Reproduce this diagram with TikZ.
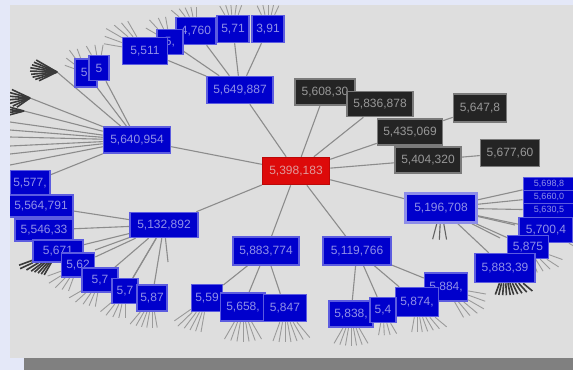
\documentclass[tikz,border=0pt]{standalone}
\usepackage{fontspec}
\newfontfamily\labfont{Liberation Sans}
\pgfdeclarelayer{bgpanel}
\pgfdeclarelayer{edges}
\pgfsetlayers{bgpanel,edges,main}
\definecolor{outerbg}{HTML}{E4E8F8}
\definecolor{panel}{HTML}{DEDEDE}
\definecolor{shadowcol}{HTML}{808080}
\definecolor{bluefill}{HTML}{0000CC}
\definecolor{blueedge}{HTML}{5C5CE0}
\definecolor{bluetext}{HTML}{9090E8}
\definecolor{darkfill}{HTML}{242424}
\definecolor{darkedge}{HTML}{7A7A7A}
\definecolor{darktext}{HTML}{989898}
\definecolor{redfill}{HTML}{DD0A0A}
\definecolor{redtext}{HTML}{E09A9A}
\definecolor{edgecol}{HTML}{8C8C8C}
\definecolor{leafcol}{HTML}{9A9A9A}
\definecolor{blobcol}{HTML}{3A3A3A}
\tikzset{
  box/.style={rectangle, inner sep=0pt, line width=1.5pt, font=\labfont\fontsize{12}{13}\selectfont},
  bluebox/.style={box, fill=bluefill, draw=blueedge, text=bluetext},
  smallblue/.style={bluebox, line width=1pt, font=\labfont\fontsize{9}{10}\selectfont},
  selbox/.style={bluebox, draw=blueedge!70!white, line width=2.5pt},
  darkbox/.style={box, fill=darkfill, draw=darkedge, text=darktext},
  redbox/.style={box, fill=redfill, draw=redfill!85!black, text=redtext},
  link/.style={draw=edgecol, line width=1.1pt},
  leaf/.style={draw=leafcol, line width=0.9pt},
  blob/.style={draw=blobcol, line width=1.6pt},
  cursorline/.style={draw=blobcol!80!white, line width=1.1pt},
}
\newcount\leafno
% #1 style, #2 node, #3 start angle, #4 end angle, #5 count, #6 length
\newcommand\leafFan[6][leaf]{%
  \foreach \k in {1,...,#5}{%
    \pgfmathtruncatemacro\ang{#3+(#4-#3)*(\k-1)/(#5-1)}%
    \global\advance\leafno by 1
    \path (#2.\ang) ++(\ang:#6pt) coordinate (lf\the\leafno);
    \draw[#1] (#2.\ang) -- (lf\the\leafno);
  }%
}
\begin{document}
\begin{tikzpicture}[x=1pt,y=-1pt]
\useasboundingbox (0,0) rectangle (573,370);
\begin{pgfonlayer}{bgpanel}
  \fill[outerbg] (0,0) rectangle (573,370);
  \fill[shadowcol] (24,358) rectangle (573,370);
  \fill[panel] (10,5) rectangle (573,357.5);
\end{pgfonlayer}

\begin{scope}
\clip (10,5) rectangle (573,357.5);
% first level
\node[redbox, minimum width=67pt, minimum height=27pt] (c) at (296,171) {5,398,183};
\node[darkbox, minimum width=60pt, minimum height=26pt] (d1) at (325,92) {5,608,30};
\node[darkbox, minimum width=66pt, minimum height=25pt] (d2) at (380,104) {5,836,878};
\node[darkbox, minimum width=65pt, minimum height=26pt] (d3) at (410,132) {5,435,069};
\node[darkbox, minimum width=66pt, minimum height=26pt] (d4) at (428,160) {5,404,320};
\node[darkbox, minimum width=53pt, minimum height=28pt] (d5) at (480,108) {5,647,8};
\node[darkbox, minimum width=59pt, minimum height=27pt] (d6) at (510,153) {5,677,60};
\node[bluebox, minimum width=66pt, minimum height=27pt] (b1) at (240,90) {5,649,887};
\node[bluebox, minimum width=67pt, minimum height=26pt] (b2) at (137,140) {5,640,954};
\node[bluebox, minimum width=68pt, minimum height=25pt] (b3) at (164,225) {5,132,892};
\node[bluebox, minimum width=66pt, minimum height=28pt] (b4) at (266,251) {5,883,774};
\node[bluebox, minimum width=68pt, minimum height=28pt] (b5) at (357,251) {5,119,766};
\node[selbox, minimum width=71pt, minimum height=29pt] (b6) at (441,208) {5,196,708};
% top row
\node[bluebox, minimum width=32pt, minimum height=27pt] (t1) at (268,29) {3,91};
\node[bluebox, minimum width=32pt, minimum height=27pt] (t2) at (233,29) {5,71};
\node[bluebox, minimum width=40pt, minimum height=27pt] (t3) at (196,31) {4,760};
\node[bluebox, minimum width=26pt, minimum height=25pt] (t4) at (170,42) {5,};
\node[bluebox, minimum width=45pt, minimum height=27pt] (t5) at (145,51) {5,511};
\node[bluebox, minimum width=22pt, minimum height=28pt] (t6) at (86,73) {5,};
\node[bluebox, minimum width=20pt, minimum height=25pt] (t7) at (99,68) {5};
% left cluster
\node[bluebox, minimum width=40pt, minimum height=25pt] (l1) at (30,183) {5,577,};
\node[bluebox, minimum width=64pt, minimum height=22pt] (l2) at (41,206) {5,564,791};
\node[bluebox, minimum width=58pt, minimum height=22pt] (l3) at (44,230) {5,546,33};
\node[bluebox, minimum width=50pt, minimum height=22pt] (l4) at (58,251) {5,671};
\node[bluebox, minimum width=33pt, minimum height=24pt] (l5) at (78,265) {5,62};
\node[bluebox, minimum width=36pt, minimum height=24pt] (l6) at (100,280) {5,7};
\node[bluebox, minimum width=26pt, minimum height=25pt] (l7) at (125,291) {5,7};
\node[bluebox, minimum width=30pt, minimum height=26pt] (l8) at (152,298) {5,87};
% bottom middle
\node[bluebox, minimum width=31pt, minimum height=27pt] (m1) at (207,298) {5,59};
\node[bluebox, minimum width=45pt, minimum height=28pt] (m2) at (243,307) {5,658,};
\node[bluebox, minimum width=43pt, minimum height=27pt] (m3) at (285,308) {5,847};
\node[bluebox, minimum width=43pt, minimum height=28pt] (n4) at (446,287) {5,884,};
\node[bluebox, minimum width=43pt, minimum height=29pt] (n3) at (417,302) {5,874,};
\node[bluebox, minimum width=44pt, minimum height=26pt] (n1) at (351,314) {5,838,};
\node[bluebox, minimum width=26pt, minimum height=25pt] (n2) at (383,310) {5,4};
% right cluster
\node[smallblue, minimum width=52pt, minimum height=14pt] (s1) at (549,184) {5,698,8};
\node[smallblue, minimum width=52pt, minimum height=14pt] (s2) at (549,197) {5,660,0};
\node[smallblue, minimum width=52pt, minimum height=14pt] (s3) at (549,210) {5,630,5};
\node[bluebox, minimum width=54pt, minimum height=25pt] (r3) at (546,230) {5,700,4};
\node[bluebox, minimum width=41pt, minimum height=23pt] (r2) at (528,247) {5,875};
\node[bluebox, minimum width=60pt, minimum height=29pt] (r1) at (505,268) {5,883,39};
\end{scope}

\begin{pgfonlayer}{edges}
\begin{scope}
\clip (10,5) rectangle (573,357.5);
% centre links
\foreach \n in {b1,d1,d2,d3,d4,b2,b3,b4,b5,b6} \draw[link] (c) -- (\n);
\draw[link] (d3) -- (d5);
\draw[link] (d4) -- (d6);
% b1 children
\foreach \n in {t1,t2,t3,t4,t5} \draw[link] (b1) -- (\n);
% b2 children
\foreach \n in {t6,t7,l1} \draw[link] (b2) -- (\n);
\coordinate (bl1) at (57,72);
\coordinate (bl2) at (30,98);
\coordinate (bl3) at (24,111);
\coordinate (e1) at (10,122);
\coordinate (e2) at (10,130);
\coordinate (e3) at (10,137);
\coordinate (e4) at (10,146);
\coordinate (e5) at (10,154);
\coordinate (e6) at (10,165);
\foreach \n in {bl1,bl2,bl3,e1,e2,e3,e4,e5,e6} \draw[link] (b2) -- (\n);
\foreach \a/\r in {150/24,157/25,164/26,171/27,178/27,185/26,192/25,199/23,206/20} {
  \path (bl1) ++(\a:\r pt) coordinate (bl1x\a);
  \draw[blob] (bl1) -- (bl1x\a);
}
\foreach \a/\r in {155/20,165/21,175/22,185/22,195/21,205/19,215/16} {
  \path (bl2) ++(\a:\r pt) coordinate (bl2x\a);
  \draw[blob] (bl2) -- (bl2x\a);
}
\foreach \a/\r in {165/16,175/17,185/17,195/16} {
  \path (bl3) ++(\a:\r pt) coordinate (bl3x\a);
  \draw[blob] (bl3) -- (bl3x\a);
}
% b3 children
\foreach \n in {l2,l3,l4,l5,l6,l7,l8} \draw[link] (b3) -- (\n);
\coordinate (g1) at (120,300);
\coordinate (g2) at (168,262);
\coordinate (g3) at (95,250);
\draw[link] (b3) -- (g1);
\draw[link] (b3) -- (g2);
\draw[link] (b3) -- (g3);
% b4, b5 children
\foreach \n in {m1,m2,m3} \draw[link] (b4) -- (\n);
\foreach \n in {n1,n2,n3,n4} \draw[link] (b5) -- (\n);
% b6 children
\foreach \n in {s1,s2,s3,r3,r2,r1} \draw[link] (b6) -- (\n);
\coordinate (h1) at (515,225);
\coordinate (h2) at (500,238);
\draw[link] (b6) -- (h1);
\draw[link] (b6) -- (h2);
% leaf fans
\leafFan{t1}{65}{115}{5}{10}
\leafFan{t2}{70}{120}{5}{10}
\leafFan{t3}{90}{140}{5}{10}
\leafFan{t4}{100}{150}{4}{12}
\leafFan{t5}{120}{170}{6}{18}
\leafFan{t6}{110}{160}{4}{10}
\leafFan{t7}{80}{120}{3}{10}
\leafFan[blob]{l4}{200}{240}{8}{14}
\leafFan{l5}{200}{250}{5}{14}
\leafFan{l6}{210}{260}{5}{14}
\leafFan{l7}{220}{270}{5}{14}
\leafFan{l8}{230}{280}{6}{16}
\leafFan{m1}{215}{260}{6}{20}
\leafFan{m2}{240}{300}{7}{20}
\leafFan{m3}{250}{310}{7}{20}
\leafFan{n1}{240}{300}{7}{18}
\leafFan{n2}{260}{300}{4}{12}
\leafFan{n3}{260}{320}{7}{15}
\leafFan{n4}{300}{350}{6}{18}
\leafFan[blob]{r1}{250}{320}{10}{12}
\leafFan{r2}{290}{340}{5}{14}
\leafFan{r3}{330}{359}{4}{15}
\leafFan[cursorline]{b6}{255}{280}{3}{16}
\end{scope}
\end{pgfonlayer}
\end{tikzpicture}
\end{document}
